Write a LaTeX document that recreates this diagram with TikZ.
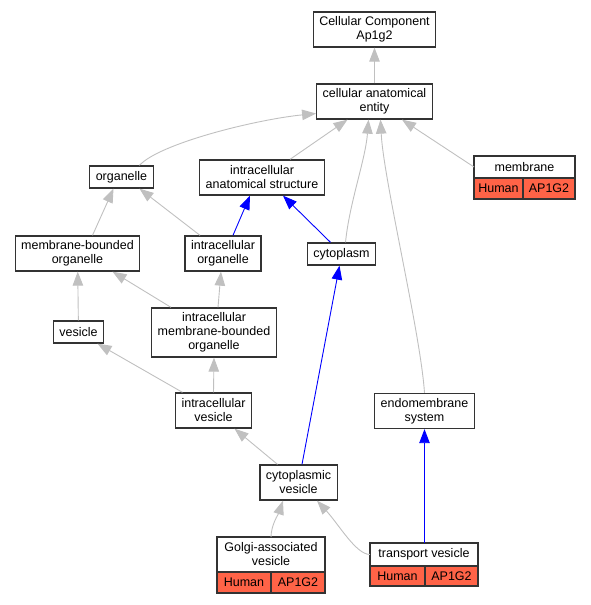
\documentclass[tikz,border=0pt]{standalone}
\usepackage{fontspec}
\setmainfont{Liberation Sans}
\usepackage[HTML]{xcolor}
\usetikzlibrary{positioning, arrows.meta, calc}
\definecolor{edgegray}{HTML}{C0C0C0}
\definecolor{hitred}{HTML}{FF6347}
\definecolor{boxline}{HTML}{333333}

\begin{document}
\begin{tikzpicture}[x=1pt, y=-1pt,
  term/.style={draw=boxline, line width=1.3pt, fill=white, align=center, inner xsep=6pt, inner ysep=3pt, minimum height=22pt, font=\fontsize{12.5}{14}\selectfont},
  twoline/.style={term, minimum height=35pt},
  cell/.style={term, fill=hitred, outer sep=0pt, minimum height=21pt, inner xsep=2pt},
  isa/.style={draw=edgegray, line width=0.9pt, -{Triangle[length=14pt,width=10.5pt]}},
  partof/.style={draw=blue, line width=0.9pt, -{Triangle[length=14pt,width=10.5pt]}}]
\useasboundingbox (0,0) rectangle (591,605);

% GO terms
\node[twoline] (cc) at (374.5,29.5) {Cellular Component\\Ap1g2};
\node[twoline] (cae) at (374.5,101.5) {cellular anatomical\\entity};
\node[term] (org) at (121.5,177) {organelle};
\node[twoline] (ias) at (262,177.5) {intracellular\\anatomical structure};
\node[twoline] (mbo) at (77.5,253.5) {membrane-bounded\\organelle};
\node[twoline] (io) at (223,253.5) {intracellular\\organelle};
\node[term] (cyto) at (341.5,254) {cytoplasm};
\node[term] (ves) at (78.5,332) {vesicle};
\node[term, minimum height=49pt] (imbo) at (214,332.5) {intracellular\\membrane-bounded\\organelle};
\node[twoline] (iv) at (213.5,410.5) {intracellular\\vesicle};
\node[twoline] (endo) at (424.5,411) {endomembrane\\system};
\node[twoline] (cv) at (298.5,482.5) {cytoplasmic\\vesicle};

% annotated terms
\node[term, outer sep=0pt, minimum width=101pt] (memb) at (524.5,167) {membrane};
\node[cell, minimum width=49pt, below right=0pt and 0pt of memb.south west] (membH) {Human};
\node[cell, minimum width=52pt, right=0pt of membH] (membA) {AP1G2};

\node[twoline, outer sep=0pt, minimum width=108pt] (golgi) at (271,554.5) {Golgi-associated\\vesicle};
\node[cell, minimum width=54pt, below right=0pt and 0pt of golgi.south west] (golgiH) {Human};
\node[cell, minimum width=54pt, right=0pt of golgiH] (golgiA) {AP1G2};

\node[term, outer sep=0pt, minimum width=108pt, minimum height=23pt] (tv) at (424,554.5) {transport vesicle};
\node[cell, minimum width=55pt, minimum height=20pt, below right=0pt and 0pt of tv.south west] (tvH) {Human};
\node[cell, minimum width=53pt, minimum height=20pt, right=0pt of tvH] (tvA) {AP1G2};

% is_a
\draw[isa] (cae) -- (cc);
\draw[isa] ([xshift=18pt]org.north) .. controls +(20,-22) and +(-60,6) .. ([yshift=-12pt]cae.west);
\draw[isa] ([xshift=28pt]ias.north) -- ([xshift=-27pt]cae.south);
\draw[isa] ([xshift=4pt]cyto.north) .. controls +(4,-40) and +(-3,40) .. ([xshift=-6pt]cae.south);
\draw[isa] (endo.north) .. controls +(-4,-60) and +(3,60) .. ([xshift=6pt]cae.south);
\draw[isa] (memb.west) -- ([xshift=27.5pt]cae.south);
\draw[isa] ([xshift=15pt]mbo.north) -- ([xshift=-8pt]org.south);
\draw[isa] ([xshift=-23pt]io.north) -- ([xshift=18pt]org.south);
\draw[isa] (ves) -- (mbo);
\draw[isa] ([xshift=-43pt]imbo.north) -- ([xshift=35pt]mbo.south);
\draw[isa] ([xshift=4pt]imbo.north) -- ([xshift=-2pt]io.south);
\draw[isa] ([xshift=-31pt]iv.north) -- ([xshift=19pt]ves.south);
\draw[isa] (iv.north) -- (imbo.south);
\draw[isa] ([xshift=-21pt]cv.north) -- ([xshift=21pt]iv.south);
\draw[isa] (golgi.north) .. controls +(0,-12) and +(-4,12) .. ([xshift=-15.5pt]cv.south);
\draw[isa] (tv.west) .. controls +(-14,0) and +(22,24) .. ([xshift=18.5pt]cv.south);

% part_of
\draw[partof] ([xshift=10pt]io.north) -- ([xshift=-12pt]ias.south);
\draw[partof] ([xshift=-11pt]cyto.north) -- ([xshift=21pt]ias.south);
\draw[partof] ([xshift=3.5pt]cv.north) -- ([xshift=-2pt]cyto.south);
\draw[partof] ([xshift=0.5pt]tv.north) -- (endo.south);
\end{tikzpicture}
\end{document}
